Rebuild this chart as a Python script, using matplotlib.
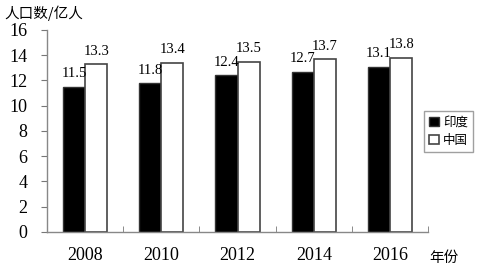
import matplotlib
matplotlib.use("Agg")
import matplotlib.pyplot as plt
import numpy as np

years = ["2008", "2010", "2012", "2014", "2016"]
india = [11.5, 11.8, 12.4, 12.7, 13.1]
china = [13.3, 13.4, 13.5, 13.7, 13.8]
yticks = [0, 2, 4, 6, 8, 10, 12, 14, 16]

cjk = ["Noto Sans CJK SC", "DejaVu Sans"]
serif = "Liberation Serif"

fig = plt.figure(figsize=(4.8, 2.7), dpi=100)
ax = fig.add_axes([0.098, 0.141, 0.794, 0.748])

x = np.arange(len(years))
w = 0.29
ax.bar(x - w / 2, india, w, color="black", edgecolor="#333333", linewidth=1, label="印度")
ax.bar(x + w / 2, china, w, color="white", edgecolor="#444444", linewidth=1.2, label="中国")

for xi, v in zip(x - w / 2, india):
    ax.text(xi, v + 0.5, f"{v:.1f}", ha="center", va="bottom", fontsize=10.5, family=serif)
for xi, v in zip(x + w / 2, china):
    ax.text(xi, v + 0.5, f"{v:.1f}", ha="center", va="bottom", fontsize=10.5, family=serif)

ax.set_xlim(-0.5, len(years) - 0.5)
ax.set_ylim(0, 16)
ax.set_yticks(yticks)
ax.set_yticklabels([str(t) for t in yticks], family=serif, fontsize=13)
ax.set_xticks(x)
ax.set_xticklabels(years, family=serif, fontsize=13)
ax.tick_params(axis="x", length=0, pad=11)
ax.tick_params(axis="y", direction="out", length=4, color="#777777", pad=10)
ax.set_xticks(np.arange(-0.5, len(years)), minor=True)
ax.tick_params(axis="x", which="minor", direction="in", length=4, color="#777777")

for s in ["top", "right"]:
    ax.spines[s].set_visible(False)
for s in ["left", "bottom"]:
    ax.spines[s].set_color("#888888")
    ax.spines[s].set_linewidth(1)

fig.text(0.01, 0.95, "人口数/亿人", family=cjk, fontsize=10.5, ha="left", va="center")
fig.text(0.895, 0.045, "年份", family=cjk, fontsize=10.5, ha="left", va="center")

leg = ax.legend(loc="upper left", bbox_to_anchor=(0.99, 0.6), prop={"family": cjk, "size": 9},
                frameon=True, fancybox=False, edgecolor="#888888", handlelength=0.8,
                handleheight=0.8, handletextpad=0.3, borderpad=0.4, labelspacing=0.4, borderaxespad=0)
leg.get_frame().set_linewidth(1)

fig.savefig("out.png", dpi=100)
